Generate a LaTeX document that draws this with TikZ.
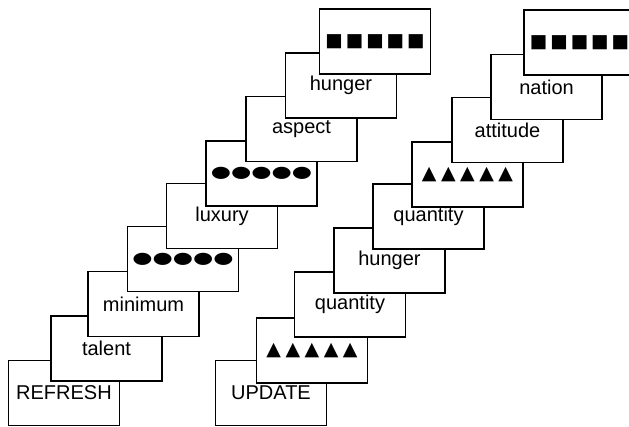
\documentclass[tikz,border=0pt]{standalone}
\usepackage{fontspec}
\setmainfont{Liberation Sans}
\newfontfamily\symfont{DejaVu Sans}
% a row of five glyphs: glyph, size, gap
\newcommand{\symrow}[3]{{\symfont\fontsize{#2}{#2}\selectfont #1\kern#3#1\kern#3#1\kern#3#1\kern#3#1}}
\newcommand{\dotrow}{\scalebox{1.45}[1]{\symrow{●}{16pt}{0pt}}}
\newcommand{\trirow}{\symrow{▲}{19pt}{4.5pt}}
\newcommand{\sqrow}{\symrow{■}{18.5pt}{3pt}}
\begin{document}
\begin{tikzpicture}[x=1pt,y=-1pt,
    card/.style={draw,line width=1.9pt,fill=white,minimum width=111pt,minimum height=65pt,
                 inner sep=0pt,font=\fontsize{20}{22}\selectfont}]
    \useasboundingbox (0,0) rectangle (629,427);

    % Left staircase, from the bottom card up
    \node[card] (refresh) at (64,393) {REFRESH};
    \node[card] (talent) at (106.5,348.5) {talent};
    \node[card] (minimum) at (143.5,304) {minimum};
    \node[card] (dotsA) at (183,259) {\dotrow};
    \node[card] (luxury) at (222,216) {luxury};
    \node[card] (dotsB) at (261.5,173.5) {\dotrow};
    \node[card] (aspect) at (301.5,129) {aspect};
    \node[card] (hungerL) at (341,85.5) {hunger};
    \node[card] (squaresL) at (375,41.5) {\sqrow};

    % Right staircase
    \node[card] (update) at (271,393) {UPDATE};
    \node[card] (triA) at (312,350.5) {\trirow};
    \node[card] (quantityA) at (350,304.5) {quantity};
    \node[card] (hungerR) at (389.5,260.5) {hunger};
    \node[card] (quantityB) at (428.5,216.5) {quantity};
    \node[card] (triB) at (467.5,174.5) {\trirow};
    \node[card] (attitude) at (507.5,130) {attitude};
    \node[card] (nation) at (546.5,87) {nation};
    \node[card] (squaresR) at (579.5,42.5) {\sqrow};

\end{tikzpicture}
\end{document}
